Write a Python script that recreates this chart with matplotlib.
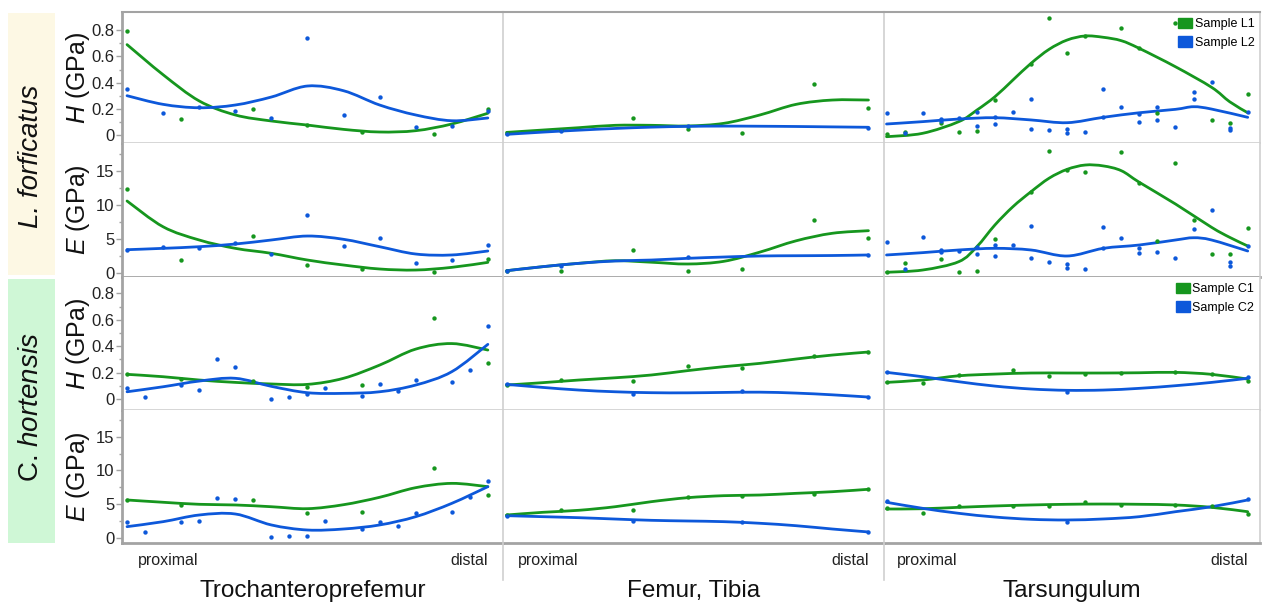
import numpy as np
import matplotlib
matplotlib.use('Agg')
from matplotlib import pyplot as plt
from matplotlib.path import Path
from matplotlib.patches import PathPatch, Rectangle, Patch
from matplotlib.lines import Line2D

plt.rcParams['font.family'] = ['Liberation Sans', 'DejaVu Sans']
plt.rcParams['mathtext.fontset'] = 'custom'
plt.rcParams['mathtext.rm'] = 'Liberation Sans'
plt.rcParams['mathtext.it'] = 'Liberation Sans:italic'

GREEN = '#16961e'
BLUE = '#0d58da'

# x = relative position along the segment (0 = proximal, 1 = distal)
fit_x = [0, .1, .2, .3, .4, .5, .6, .7, .8, .9, 1]

# --- Trochanteroprefemur ---
tp_L1_x = [0, .15, .35, .5, .65, .85, 1]
tp_L1_H = [.796, .122, .198, .079, .025, .005, .20]
tp_L1_E = [12.37, 1.99, 5.5, 1.26, 0.68, 0.19, 2.05]
tp_L2_x = [0, .1, .2, .3, .4, .5, .6, .7, .8, .9, 1]
tp_L2_H = [.351, .168, .21, .181, .127, .743, .153, .292, .063, .066, .183]
tp_L2_E = [3.41, 3.89, 3.75, 4.38, 2.87, 8.48, 3.99, 5.12, 1.46, 1.99, 4.09]
tp_L1_H_fit = [.69, .46, .26, .153, .107, .076, .043, .023, .033, .084, .166]
tp_L2_H_fit = [.30, .234, .208, .229, .29, .374, .338, .229, .153, .109, .13]
tp_L1_E_fit = [10.57, 6.8, 4.87, 3.65, 2.92, 1.94, 1.21, 0.63, 0.48, 0.87, 1.6]
tp_L2_E_fit = [3.45, 3.65, 3.89, 4.28, 4.87, 5.45, 4.97, 3.89, 2.82, 2.68, 3.26]

tp_C1_x = [0, .15, .35, .5, .65, .85, 1]
tp_C1_H = [.187, .154, .134, .093, .104, .616, .273]
tp_C1_E = [5.6, 4.81, 5.6, 3.62, 3.82, 10.4, 6.34]
tp_C2_x = [0, .05, .15, .2, .25, .3, .4, .45, .5, .55, .65, .7, .75, .8, .9, .95, 1]
tp_C2_H = [.086, .015, .104, .071, .30, .245, .0, .018, .035, .086, .023, .116, .06, .144, .126, .217, .553]
tp_C2_E = [2.33, 0.8, 2.38, 2.48, 5.94, 5.75, 0.15, 0.25, 0.25, 2.48, 1.29, 2.28, 1.74, 3.71, 3.82, 6.0, 8.42]
tp_C1_H_fit = [.187, .169, .144, .126, .114, .111, .157, .257, .378, .42, .371]
tp_C2_H_fit = [.055, .093, .136, .157, .096, .048, .043, .055, .106, .207, .414]
tp_C1_E_fit = [5.6, 5.26, 4.96, 4.86, 4.6, 4.31, 4.9, 6.0, 7.43, 8.07, 7.58]
tp_C2_E_fit = [1.64, 2.38, 3.37, 3.52, 1.89, 1.14, 1.29, 1.89, 3.12, 5.1, 7.58]

# --- Femur, Tibia ---
ft_L1_x = [0, .15, .35, .5, .65, .85, 1]
ft_L1_H = [.018, .035, .132, .043, .015, .387, .209]
ft_L1_E = [0.38, 0.38, 3.36, 0.38, 0.63, 7.79, 5.2]
ft_L2_x = [0, .15, .5, 1]
ft_L2_H = [.005, .03, .071, .056]
ft_L2_E = [0.38, 1.07, 2.34, 2.68]
ft_L1_H_fit = [.02, .038, .056, .074, .074, .069, .089, .153, .234, .267, .267]
ft_L2_H_fit = [.005, .022, .037, .05, .06, .066, .068, .067, .065, .062, .059]
ft_L1_E_fit = [0.38, 0.97, 1.46, 1.84, 1.62, 1.36, 1.75, 3.1, 4.75, 5.85, 6.23]
ft_L2_E_fit = [0.38, 0.97, 1.46, 1.8, 1.94, 2.19, 2.38, 2.53, 2.57, 2.6, 2.68]

ft_C1_x = [0, .15, .35, .5, .65, .85, 1]
ft_C1_H = [.106, .146, .139, .252, .235, .326, .356]
ft_C1_E = [3.37, 4.07, 4.07, 6.09, 6.24, 6.49, 7.19]
ft_C2_x = [0, .35, .65, 1]
ft_C2_H = [.111, .04, .058, .015]
ft_C2_E = [3.27, 2.48, 2.33, 0.85]
ft_C1_H_fit = [.106, .124, .144, .161, .182, .215, .245, .27, .303, .333, .356]
ft_C2_H_fit = [.111, .088, .068, .055, .048, .047, .05, .052, .045, .032, .015]
ft_C1_E_fit = [3.37, 3.77, 4.07, 4.6, 5.35, 5.94, 6.24, 6.34, 6.59, 6.83, 7.19]
ft_C2_E_fit = [3.27, 3.12, 2.97, 2.77, 2.58, 2.48, 2.38, 2.14, 1.78, 1.29, 0.85]

# --- Tarsungulum ---
ts_L1_xH = [0, .05, .15, .2, .25, .3, .4, .45, .5, .55, .65, .7, .75, .8, .9, .95, 1]
ts_L1_H = [.005, .025, .094, .02, .028, .267, .542, .89, .623, .758, .814, .661, .165, .852, .115, .094, .313]
ts_L1_xE = [0, .05, .15, .2, .25, .3, .4, .45, .5, .55, .65, .7, .75, .8, .85, .9, .95, 1]
ts_L1_E = [0.15, 1.55, 2.14, 0.24, 0.39, 5.01, 11.93, 17.88, 15.1, 14.81, 17.69, 13.2, 4.77, 16.08, 7.79, 2.87, 2.82, 6.58]
ts_L2_xH = [0, .05, .1, .15, .15, .2, .25, .25, .3, .3, .35, .4, .4, .45, .5, .5, .55, .6, .6, .65,
            .7, .7, .75, .75, .8, .85, .85, .9, .95, .95, 1]
ts_L2_H = [.165, .013, .17, .125, .11, .13, .173, .069, .14, .081, .178, .272, .048, .041, .048, .018, .02, .349, .14, .211,
           .16, .102, .216, .117, .061, .331, .275, .402, .051, .036, .178]
ts_L2_xE = [0, .05, .1, .15, .15, .2, .25, .25, .3, .3, .35, .4, .4, .45, .5, .5, .55, .6, .6, .65,
            .7, .7, .75, .8, .85, .9, .95, .95, 1]
ts_L2_E = [4.62, 0.68, 5.36, 3.41, 3.07, 3.26, 3.89, 2.78, 4.09, 2.53, 4.19, 6.96, 2.28, 1.7, 1.31, 0.73, 0.68, 6.81, 3.65, 5.2,
           3.7, 3.02, 3.16, 2.28, 6.43, 9.25, 1.7, 1.07, 3.99]
ts_L1_fit_x = [0, .1, .2, .25, .3, .35, .4, .45, .5, .55, .6, .65, .7, .8, .9, .95, 1]
ts_L1_H_fit = [-.013, .013, .102, .19, .292, .42, .547, .654, .725, .756, .746, .72, .661, .521, .364, .254, .17]
ts_L1_E_fit = [0.15, 0.48, 1.7, 3.89, 7.06, 9.74, 11.93, 13.9, 15.2, 15.83, 15.7, 15.0, 13.3, 10.13, 6.72, 5.26, 3.99]
ts_L2_fit_x = [0, .1, .2, .3, .4, .5, .6, .7, .8, .85, .9, 1]
ts_L2_H_fit = [.084, .102, .122, .132, .115, .094, .135, .17, .196, .216, .198, .135]
ts_L2_E_fit = [2.68, 3.02, 3.41, 3.65, 3.41, 2.53, 3.65, 4.14, 4.87, 5.2, 4.87, 3.26]

ts_C1_x = [0, .1, .2, .35, .45, .55, .65, .8, .9, 1]
ts_C1_H = [.131, .119, .182, .22, .176, .189, .194, .207, .189, .136]
ts_C1_E = [4.36, 3.62, 4.71, 4.71, 4.71, 5.26, 4.86, 4.86, 4.75, 3.52]
ts_C2_x = [0, .5, 1]
ts_C2_H = [.207, .05, .164]
ts_C2_E = [5.45, 2.28, 5.7]
ts_C1_H_fit = [.126, .144, .176, .189, .197, .197, .197, .199, .202, .187, .151]
ts_C2_H_fit = [.202, .169, .131, .098, .076, .066, .068, .081, .101, .126, .157]
ts_C1_E_fit = [4.26, 4.3, 4.51, 4.71, 4.86, 4.96, 5.0, 4.96, 4.86, 4.51, 3.86]
ts_C2_E_fit = [5.26, 4.36, 3.62, 3.07, 2.73, 2.63, 2.78, 3.12, 3.86, 4.6, 5.6]

col_titles = ['Trochanteroprefemur', 'Femur, Tibia', 'Tarsungulum']
species = ['L. forficatus', 'C. $\\mathit{hortensis}$']
row_labels = ['$\\mathit{H}$ (GPa)', '$\\mathit{E}$ (GPa)', '$\\mathit{H}$ (GPa)', '$\\mathit{E}$ (GPa)']
legend_L = ['Sample L1', 'Sample L2']
legend_C = ['Sample C1', 'Sample C2']

# (row, col) -> series: (color, point x, point y, fit x, fit y)
panels = {
    (0, 0): [(GREEN, tp_L1_x, tp_L1_H, fit_x, tp_L1_H_fit), (BLUE, tp_L2_x, tp_L2_H, fit_x, tp_L2_H_fit)],
    (1, 0): [(GREEN, tp_L1_x, tp_L1_E, fit_x, tp_L1_E_fit), (BLUE, tp_L2_x, tp_L2_E, fit_x, tp_L2_E_fit)],
    (2, 0): [(GREEN, tp_C1_x, tp_C1_H, fit_x, tp_C1_H_fit), (BLUE, tp_C2_x, tp_C2_H, fit_x, tp_C2_H_fit)],
    (3, 0): [(GREEN, tp_C1_x, tp_C1_E, fit_x, tp_C1_E_fit), (BLUE, tp_C2_x, tp_C2_E, fit_x, tp_C2_E_fit)],
    (0, 1): [(GREEN, ft_L1_x, ft_L1_H, fit_x, ft_L1_H_fit), (BLUE, ft_L2_x, ft_L2_H, fit_x, ft_L2_H_fit)],
    (1, 1): [(GREEN, ft_L1_x, ft_L1_E, fit_x, ft_L1_E_fit), (BLUE, ft_L2_x, ft_L2_E, fit_x, ft_L2_E_fit)],
    (2, 1): [(GREEN, ft_C1_x, ft_C1_H, fit_x, ft_C1_H_fit), (BLUE, ft_C2_x, ft_C2_H, fit_x, ft_C2_H_fit)],
    (3, 1): [(GREEN, ft_C1_x, ft_C1_E, fit_x, ft_C1_E_fit), (BLUE, ft_C2_x, ft_C2_E, fit_x, ft_C2_E_fit)],
    (0, 2): [(GREEN, ts_L1_xH, ts_L1_H, ts_L1_fit_x, ts_L1_H_fit), (BLUE, ts_L2_xH, ts_L2_H, ts_L2_fit_x, ts_L2_H_fit)],
    (1, 2): [(GREEN, ts_L1_xE, ts_L1_E, ts_L1_fit_x, ts_L1_E_fit), (BLUE, ts_L2_xE, ts_L2_E, ts_L2_fit_x, ts_L2_E_fit)],
    (2, 2): [(GREEN, ts_C1_x, ts_C1_H, fit_x, ts_C1_H_fit), (BLUE, ts_C2_x, ts_C2_H, fit_x, ts_C2_H_fit)],
    (3, 2): [(GREEN, ts_C1_x, ts_C1_E, fit_x, ts_C1_E_fit), (BLUE, ts_C2_x, ts_C2_E, fit_x, ts_C2_E_fit)],
}


def smooth_path(xs, ys):
    # Catmull-Rom through the read points, drawn as cubic bezier segments
    pts = np.column_stack([xs, ys]).astype(float)
    p = np.vstack([pts[0], pts, pts[-1]])
    verts = [pts[0]]
    codes = [Path.MOVETO]
    for i in range(1, len(p) - 2):
        c1 = p[i] + (p[i + 1] - p[i - 1]) / 6
        c2 = p[i + 1] - (p[i + 2] - p[i]) / 6
        verts += [c1, c2, p[i + 1]]
        codes += [Path.CURVE4] * 3
    return Path(verts, codes)


W, H = 1263, 605
fig = plt.figure(figsize=(W / 100, H / 100), dpi=100)


def fx(px):
    return px / W


def fy(py):
    return 1 - py / H


col_edges = [(122, 503), (503, 884), (884, 1260)]
col_xlim = [(-0.014, 1.042), (-0.010, 1.043), (-0.007, 1.034)]
row_edges = [(12, 143), (143, 277), (277, 410), (410, 543)]
row_ylim = [(-0.061, 0.939), (-0.54, 19.05), (-0.083, 0.924), (-0.79, 18.97)]

LIGHT = '#d0d0d0'
DARK = '#a3a3a3'

axes = {}
for r, (y0, y1) in enumerate(row_edges):
    for c, (x0, x1) in enumerate(col_edges):
        ax = fig.add_axes([fx(x0), fy(y1), (x1 - x0) / W, (y1 - y0) / H])
        axes[(r, c)] = ax
        ax.set_xlim(*col_xlim[c])
        ax.set_ylim(*row_ylim[r])
        ax.set_xticks([])
        for s in ax.spines.values():
            s.set_color(LIGHT)
            s.set_linewidth(1.2)
        ax.spines['top'].set_visible(r == 0)
        ax.spines['top'].set_color(DARK)
        ax.spines['top'].set_linewidth(1.5)
        if r in (1, 3):
            ax.spines['bottom'].set_color(DARK)
            ax.spines['bottom'].set_linewidth(2)
        ax.spines['right'].set_visible(c == 2)
        if c == 0:
            ax.spines['left'].set_color(DARK)
            ax.spines['left'].set_linewidth(2)
            if r in (0, 2):
                ax.set_yticks([0, .2, .4, .6, .8])
                ax.set_yticklabels(['0', '0.2', '0.4', '0.6', '0.8'])
                ax.set_yticks(np.arange(0.1, 0.9, 0.2), minor=True)
            else:
                ax.set_yticks([0, 5, 10, 15])
                ax.set_yticks([2.5, 7.5, 12.5, 17.5], minor=True)
            ax.tick_params(axis='y', which='major', length=4, width=1, color=DARK,
                           labelsize=12, labelcolor='#222222', pad=1.5)
            ax.tick_params(axis='y', which='minor', length=2.5, width=1, color=DARK)
        else:
            ax.set_yticks([])
        for color, px_, py_, fx_, fy_ in panels[(r, c)]:
            ax.add_patch(PathPatch(smooth_path(fx_, fy_), fill=False, edgecolor=color,
                                   lw=2.0, capstyle='round', zorder=2))
            ax.scatter(px_, py_, s=10, color=color, linewidths=0, zorder=3)

for r, labels in ((0, legend_L), (2, legend_C)):
    handles = [Patch(color=GREEN, label=labels[0]), Patch(color=BLUE, label=labels[1])]
    axes[(r, 2)].legend(handles=handles, loc='upper right', frameon=False, fontsize=9,
                        handlelength=1.1, handleheight=0.9, handletextpad=0.2,
                        labelspacing=0.5, borderaxespad=0.15, borderpad=0.3)

# proximal / distal under the bottom row
for c in range(3):
    ax = axes[(3, c)]
    tr = ax.get_xaxis_transform()
    ax.text(0.03, -0.135, 'proximal', transform=tr, ha='left', va='center', fontsize=11.5, color='#222222')
    ax.text(1.0, -0.135, 'distal', transform=tr, ha='right', va='center', fontsize=11.5, color='#222222')
    x0, x1 = col_edges[c]
    fig.text(fx((x0 + x1) / 2), fy(591), col_titles[c], ha='center', va='center', fontsize=17.5, color='#111111')

# column separators continue below the grid
for xs in (503, 884):
    fig.add_artist(Line2D([fx(xs), fx(xs)], [fy(543), fy(580)], transform=fig.transFigure,
                          color=LIGHT, lw=1.2))

# species boxes
fig.add_artist(Rectangle((fx(8), fy(275)), 47 / W, 262 / H, transform=fig.transFigure,
                         facecolor='#fdf8e4', edgecolor='none'))
fig.add_artist(Rectangle((fx(8), fy(543)), 47 / W, 264 / H, transform=fig.transFigure,
                         facecolor='#cff7d6', edgecolor='none'))
fig.text(fx(31.5), fy(156), species[0], rotation=90, ha='center', va='center',
         fontsize=20, style='italic', color='#111111')
fig.text(fx(31.5), fy(407), species[1], rotation=90, ha='center', va='center',
         fontsize=20, color='#111111')

for r, (y0, y1) in enumerate(row_edges):
    fig.text(fx(78), fy((y0 + y1) / 2), row_labels[r], rotation=90, ha='center', va='center',
             fontsize=18, color='#111111')

fig.savefig('out.png', dpi=100)
